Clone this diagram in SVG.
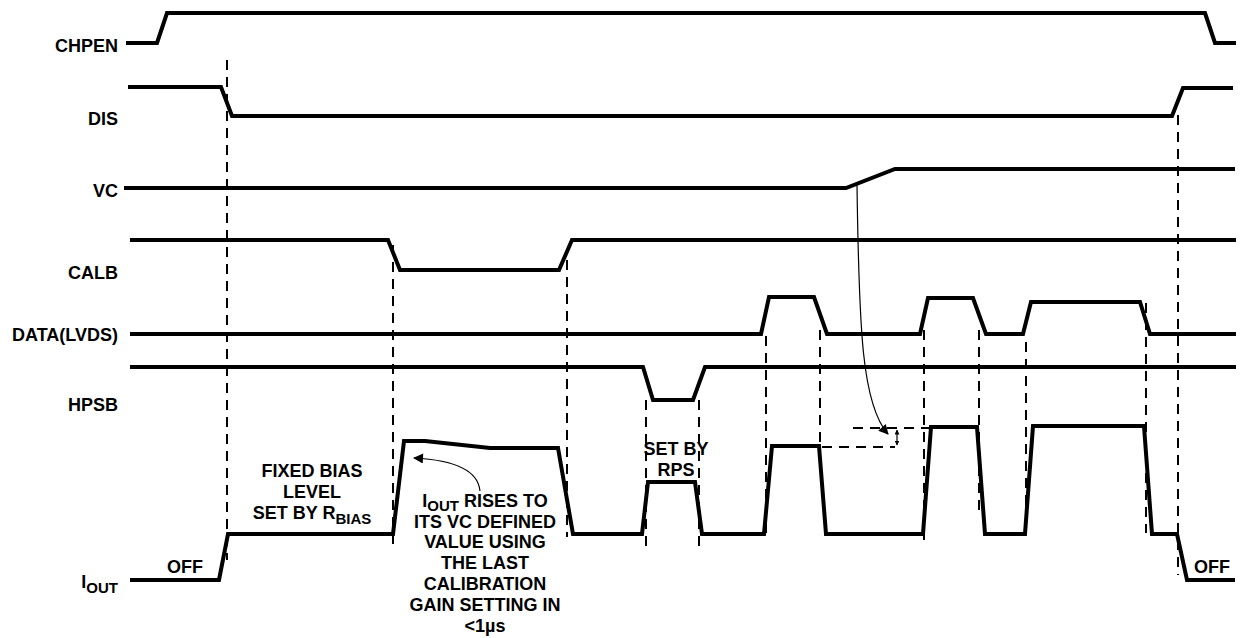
<svg xmlns="http://www.w3.org/2000/svg" width="1240" height="638" viewBox="0 0 1240 638">
<defs>
<style>
.w{fill:none;stroke:#000;stroke-width:4;stroke-linejoin:miter}
.d{fill:none;stroke:#000;stroke-width:2;stroke-dasharray:10 7}
.t{font-family:"Liberation Sans",Arial,sans-serif;font-weight:bold;font-size:18px;fill:#000}
.l{text-anchor:end}
.c{text-anchor:middle}
.s{font-size:15px}
.a{fill:none;stroke:#000;stroke-width:1.2}
</style>
<marker id="ah" viewBox="0 0 10 10" refX="9" refY="5" markerWidth="14" markerHeight="10" markerUnits="userSpaceOnUse" orient="auto">
<path d="M0,0 L10,5 L0,10 z" fill="#000"/>
</marker>
<marker id="sm" viewBox="0 0 10 10" refX="9" refY="5" markerWidth="5" markerHeight="5" markerUnits="userSpaceOnUse" orient="auto-start-reverse">
<path d="M0,0 L10,5 L0,10 z" fill="#000"/>
</marker>
</defs>
<rect width="1240" height="638" fill="#fff"/>
<g id="labels">
<text class="t l" x="118" y="52">CHPEN</text>
<text class="t l" x="118" y="125">DIS</text>
<text class="t l" x="118" y="197">VC</text>
<text class="t l" x="118" y="279">CALB</text>
<text class="t l" x="118" y="341">DATA(LVDS)</text>
<text class="t l" x="118" y="411">HPSB</text>
<text class="t l" x="118" y="588">I<tspan class="s" dy="5">OUT</tspan></text>
</g>
<g id="connectors">
<path class="d" d="M227,60 V560"/>
<path class="d" d="M393,245 V548"/>
<path class="d" d="M567,260 V537"/>
<path class="d" d="M646,400 V552"/>
<path class="d" d="M699,400 V552"/>
<path class="d" d="M766,336 V540"/>
<path class="d" d="M820,330 V447 H895"/>
<path class="d" d="M853,428 H930"/>
<path class="d" d="M924,330 V540"/>
<path class="d" d="M979,330 V510"/>
<path class="d" d="M1026,342 V533"/>
<path class="d" d="M1146,303 V533"/>
<path class="d" d="M1178,115 V575"/>
<path class="a" d="M857,185 C859,330 862,405 888,434" marker-end="url(#ah)"/>
<path class="a" d="M897,430 V445" marker-start="url(#sm)" marker-end="url(#sm)"/>
<path class="a" d="M480,491 C478,470 455,460 414,458" marker-end="url(#ah)"/>
</g>
<g id="chpen"><path class="w" d="M126,43 L157,43 L167,13 L1205,13 L1215,43 L1236,43"/></g>
<g id="dis"><path class="w" d="M128,87 L221,87 L232,116 L1172,116 L1183,88 L1233,88"/></g>
<g id="vc"><path class="w" d="M124,188 L846,188 L895,169 L1235,169"/></g>
<g id="calb"><path class="w" d="M130,240 L388,240 L400,270 L559,270 L572,240 L1236,240"/></g>
<g id="data"><path class="w" d="M130,334 L761,334 L769,297 L814,297 L827,334 L920,334 L928,298 L973,298 L986,334 L1023,334 L1031,302 L1140,302 L1150,334 L1236,334"/></g>
<g id="hpsb"><path class="w" d="M130,367 L643,367 L653,400 L693,400 L705,367 L1236,367"/></g>
<g id="iout"><path class="w" d="M130,580 L219,580 L228,534 L393,534 L404,441 L425,441 L490,448 L558,448 L573,534 L642,534 L648,482 L695,482 L702,534 L764,534 L772,446 L819,446 L826,534 L923,534 L931,427 L977,427 L985,534 L1025,534 L1033,426 L1144,426 L1152,534 L1177,534 L1187,580 L1235,580"/></g>
<g id="annotations">
<text class="t" x="167" y="573">OFF</text>
<text class="t" x="1194" y="573">OFF</text>
<text class="t c" x="312" y="477">FIXED BIAS</text>
<text class="t c" x="312" y="498">LEVEL</text>
<text class="t c" x="312" y="519">SET BY R<tspan class="s" dy="5">BIAS</tspan></text>
<text class="t c" x="676" y="455">SET BY</text>
<text class="t c" x="676" y="476">RPS</text>
<text class="t c" x="485" y="507">I<tspan class="s" dy="4">OUT</tspan><tspan dy="-4"> RISES TO</tspan></text>
<text class="t c" x="485" y="528">ITS VC DEFINED</text>
<text class="t c" x="485" y="548">VALUE USING</text>
<text class="t c" x="485" y="569">THE LAST</text>
<text class="t c" x="485" y="590">CALIBRATION</text>
<text class="t c" x="485" y="611">GAIN SETTING IN</text>
<text class="t c" x="485" y="632">&lt;1µs</text>
</g>
</svg>
